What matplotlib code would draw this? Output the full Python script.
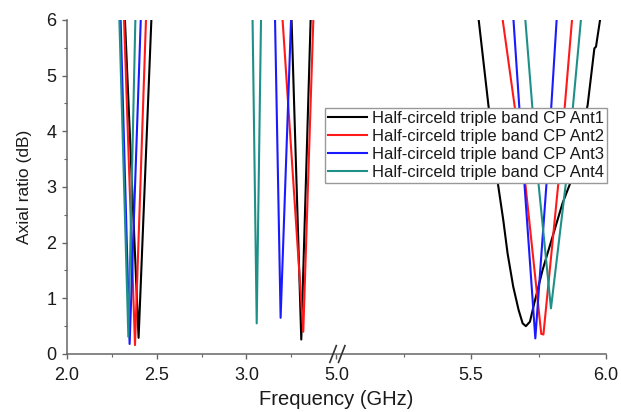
import numpy as np
import matplotlib
matplotlib.use("Agg")
import matplotlib.pyplot as plt
from matplotlib.ticker import FixedLocator, FixedFormatter, MultipleLocator

plt.rcParams['font.family'] = ['Liberation Sans', 'DejaVu Sans']

# Axial-ratio sweeps (frequency in GHz, AR in dB) for the four antennas
ant1_f = [2.324, 2.400, 2.471,
          3.251, 3.305, 3.357,
          5.528, 5.564, 5.598, 5.619, 5.635, 5.656, 5.676, 5.691, 5.703, 5.718,
          5.734, 5.765, 5.802, 5.839, 5.870, 5.932, 5.957, 5.963, 5.978]
ant1_ar = [6.0, 0.29, 6.0,
           6.0, 0.26, 6.0,
           6.0, 4.47, 3.10, 2.41, 1.81, 1.21, 0.79, 0.55, 0.50, 0.58,
           0.91, 1.51, 2.11, 2.71, 3.10, 4.47, 5.49, 5.52, 6.0]

ant2_f = [2.319, 2.380, 2.441,
          3.201, 3.316, 3.372,
          5.617, 5.700, 5.760, 5.768, 5.824, 5.874]
ant2_ar = [6.0, 0.16, 6.0,
           6.0, 0.40, 6.0,
           6.0, 3.10, 0.36, 0.35, 3.10, 6.0]

ant3_f = [2.300, 2.350, 2.412,
          3.159, 3.190, 3.248,
          5.657, 5.697, 5.738, 5.780, 5.817]
ant3_ar = [6.0, 0.18, 6.0,
           6.0, 0.65, 6.0,
           6.0, 3.10, 0.28, 3.10, 6.0]

ant4_f = [2.293, 2.343, 2.382,
          3.034, 3.057, 3.081,
          5.701, 5.749, 5.796, 5.852, 5.907]
ant4_ar = [6.0, 0.31, 6.0,
           6.0, 0.55, 6.0,
           6.0, 3.10, 0.82, 3.10, 6.0]

labels = ["Half-circeld triple band CP Ant1",
          "Half-circeld triple band CP Ant2",
          "Half-circeld triple band CP Ant3",
          "Half-circeld triple band CP Ant4"]
colors = ["#000000", "#ff1a1a", "#1a1aff", "#1f9088"]

# Band boundaries of the broken frequency axis
low_band = (2.0, 3.5)
high_band = (5.0, 6.0)
xtick_vals = [2.0, 2.5, 3.0, 5.0, 5.5, 6.0]
xtick_text = ["2.0", "2.5", "3.0", "5.0", "5.5", "6.0"]
xminor_vals = [2.25, 2.75, 3.25, 5.25, 5.75]

span_low = low_band[1] - low_band[0]
stretch = span_low / (high_band[1] - high_band[0])


def fwd(x):
    x = np.asarray(x, dtype=float)
    return np.where(x <= low_band[1], x - low_band[0],
                    span_low + (x - high_band[0]) * stretch)


def inv(u):
    u = np.asarray(u, dtype=float)
    return np.where(u <= span_low, u + low_band[0],
                    high_band[0] + (u - span_low) / stretch)


fig = plt.figure(figsize=(6.21, 4.12), dpi=100)
ax = fig.add_axes([0.1074, 0.1408, 0.8684, 0.8107])
ax.set_xscale('function', functions=(fwd, inv))

series = [(ant1_f, ant1_ar), (ant2_f, ant2_ar), (ant3_f, ant3_ar), (ant4_f, ant4_ar)]
for (f, ar), lab, c in zip(series, labels, colors):
    f = np.asarray(f)
    ar = np.asarray(ar)
    # draw each band as its own segment so nothing spans the gap
    first = True
    for lo, hi in [(2.0, 2.6), (2.9, 3.5), (5.0, 6.0)]:
        m = (f >= lo) & (f <= hi)
        ax.plot(f[m], ar[m], color=c, lw=1.5, label=lab if first else None,
                solid_joinstyle='round')
        first = False

ax.set_xlim(2.0, 6.0)
ax.set_ylim(0, 6)

spine_c = "#666666"
for s in ['top', 'right']:
    ax.spines[s].set_visible(False)
for s in ['left', 'bottom']:
    ax.spines[s].set_color(spine_c)
    ax.spines[s].set_linewidth(1.1)

ax.xaxis.set_major_locator(FixedLocator(xtick_vals))
ax.xaxis.set_major_formatter(FixedFormatter(xtick_text))
ax.xaxis.set_minor_locator(FixedLocator(xminor_vals))
ax.yaxis.set_major_locator(MultipleLocator(1))
ax.yaxis.set_minor_locator(MultipleLocator(0.5))

ax.tick_params(axis='both', which='major', direction='out', length=3.5, width=1.0,
               color=spine_c, labelsize=13, labelcolor='#1a1a1a')
ax.tick_params(axis='both', which='minor', direction='out', length=2.2, width=0.8,
               color=spine_c)
ax.tick_params(axis='x', which='major', pad=6)
ax.tick_params(axis='y', which='major', pad=4)

ax.set_xlabel("Frequency (GHz)", fontsize=14.5, color='#1a1a1a', labelpad=4)
ax.set_ylabel("Axial ratio (dB)", fontsize=12.5, color='#1a1a1a', labelpad=10)

# break marks on the frequency axis
bx = fwd(low_band[1]) / fwd(high_band[1])
for dx in (-0.012, 0.004):
    ax.plot([bx + dx, bx + dx + 0.012], [-0.025, 0.025], transform=ax.transAxes,
            color='#333333', lw=1.2, clip_on=False, zorder=5)

leg = ax.legend(loc='upper right', bbox_to_anchor=(1.002, 0.737), borderaxespad=0,
                fontsize=12, frameon=True, fancybox=False, framealpha=1,
                edgecolor='#999999', handlelength=2.3, handletextpad=0.3,
                borderpad=0.2, labelspacing=0.18)
leg.get_frame().set_linewidth(1.0)
for t in leg.get_texts():
    t.set_color('#1a1a1a')

fig.savefig("out.png", dpi=100)
